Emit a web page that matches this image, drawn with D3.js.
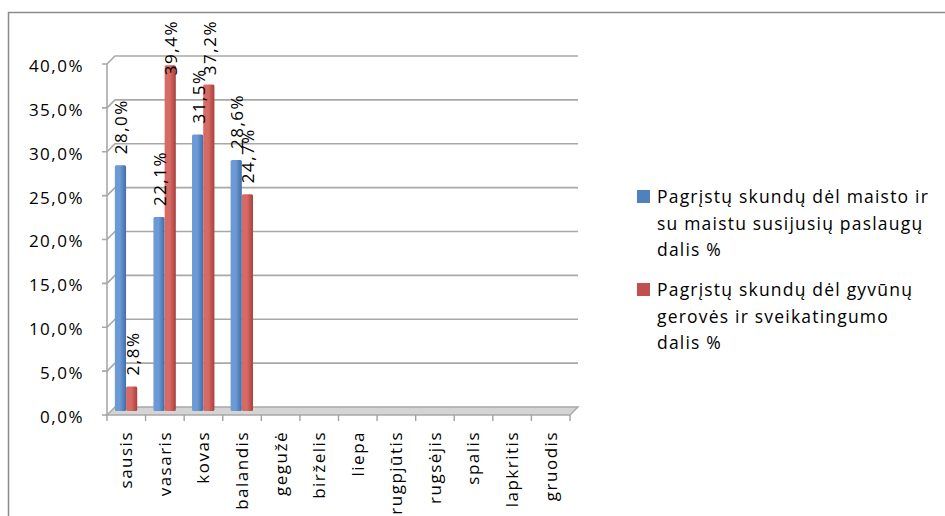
<!DOCTYPE html>
<meta charset="utf-8">
<style>
  body { margin: 0; background: #fff; }
  text { font-family: "Open Sans", sans-serif; font-size: 17px; fill: #000; letter-spacing: 1.5px; }
  .legend text { font-size: 17.5px; letter-spacing: 1.2px; }
  .grid { stroke: #a8a8a8; stroke-width: 1.6px; fill: none; }
</style>
<body>
<script src="https://d3js.org/d3.v7.min.js"></script>
<script>
// chart values
var months = ["sausis", "vasaris", "kovas", "balandis", "gegužė", "birželis", "liepa",
  "rugpjūtis", "rugsėjis", "spalis", "lapkritis", "gruodis"];
var foodShare = [28.0, 22.1, 31.5, 28.6, null, null, null, null, null, null, null, null];
var animalShare = [2.8, 39.4, 37.2, 24.7, null, null, null, null, null, null, null, null];
var yTicks = [0, 5, 10, 15, 20, 25, 30, 35, 40];
var seriesNames = [
  ["Pagrįstų skundų dėl maisto ir", "su maistu susijusių paslaugų", "dalis %"],
  ["Pagrįstų skundų dėl gyvūnų", "gerovės ir sveikatingumo", "dalis %"]
];
var seriesColors = ["#4f81bd", "#c0504d"];

var width = 945, height = 516;
var depth = 8; // 3d wall offset

var svg = d3.select("body").append("svg")
  .attr("width", width)
  .attr("height", height);

// gradients for the columns
var defs = svg.append("defs");
[["gb", "#3f6ea8", "#6b9ad4"], ["gr", "#a8403d", "#d86a66"]].forEach(function(g) {
  var lg = defs.append("linearGradient").attr("id", g[0]);
  lg.append("stop").attr("offset", "0%").attr("stop-color", g[2]);
  lg.append("stop").attr("offset", "45%").attr("stop-color", g[2]);
  lg.append("stop").attr("offset", "100%").attr("stop-color", g[1]);
});

// outer frame
svg.append("path")
  .attr("d", "M8.5," + height + "V12.5H" + width)
  .attr("fill", "none")
  .attr("stroke", "#8a8a8a")
  .attr("stroke-width", 1.5);

// scales
var x = d3.scaleBand().domain(months).range([107, 570]);
var y = d3.scaleLinear().domain([0, 40]).range([415, 64]);
var x0 = x.range()[0], x1 = x.range()[1];

// back wall gridlines with the little diagonal to the front tick
var grid = svg.append("g");
yTicks.forEach(function(t) {
  if (t === 0) return;
  grid.append("path").attr("class", "grid")
    .attr("d", "M" + (x0 - 5) + "," + y(t) + "H" + x0 + "L" + (x0 + depth) + "," + (y(t) - depth) + "H" + (x1 + depth));
});
// left wall
grid.append("path").attr("class", "grid")
  .attr("d", "M" + x0 + "," + y(40) + "V" + y(0));
// floor
grid.append("path")
  .attr("d", "M" + x0 + "," + y(0) + "L" + (x0 + depth) + "," + (y(0) - depth) + "H" + (x1 + depth) + "L" + x1 + "," + y(0) + "Z")
  .attr("fill", "#d4d4d4").attr("stroke", "#a8a8a8").attr("stroke-width", 1.4);
grid.append("path").attr("class", "grid")
  .attr("d", "M" + (x0 - 5) + "," + y(0) + "H" + x0);

// x ticks
svg.append("g").selectAll("line")
  .data(months.concat([null]))
  .enter().append("line")
  .attr("x1", function(d, i) { return x0 + i * x.bandwidth(); })
  .attr("x2", function(d, i) { return x0 + i * x.bandwidth(); })
  .attr("y1", y(0))
  .attr("y2", y(0) + 6)
  .attr("stroke", "#a0a0a0").attr("stroke-width", 1.4);

// y labels
svg.append("g").selectAll("text")
  .data(yTicks)
  .enter().append("text")
  .attr("x", 84)
  .attr("y", function(d) { return y(d) + 2; })
  .attr("dy", "0.35em")
  .attr("text-anchor", "end")
  .text(function(d) { return d.toFixed(1).replace(".", ",") + "%"; });

// x labels
svg.append("g").selectAll("text")
  .data(months)
  .enter().append("text")
  .attr("transform", function(d) { return "translate(" + (x(d) + x.bandwidth() / 2) + ",431) rotate(-90)"; })
  .attr("dy", "0.35em")
  .attr("text-anchor", "end")
  .text(function(d) { return d; });

// columns sit halfway into the depth
var yb = function(v) { return y(v) - depth / 2; };
var bw = x.bandwidth() * 0.29;
var series = [foodShare, animalShare];
var bars = svg.append("g");
var labels = svg.append("g");
series.forEach(function(vals, s) {
  var bx = function(i) { return x(months[i]) + depth / 2 + x.bandwidth() * 0.1 + s * bw; };
  vals.forEach(function(v, i) {
    if (v == null) return;
    bars.append("rect")
      .attr("x", bx(i))
      .attr("y", yb(v))
      .attr("width", bw)
      .attr("height", yb(0) - yb(v))
      .attr("rx", 1.5)
      .attr("fill", s === 0 ? "url(#gb)" : "url(#gr)");
    var t = labels.append("text")
      .attr("dy", "0.35em")
      .text(v.toFixed(1).replace(".", ",") + "%");
    var len = t.node().getComputedTextLength();
    var ty = Math.max(yb(v) - 11, 20 + len);
    t.attr("transform", "translate(" + (bx(i) + bw / 2 + 1) + "," + ty + ") rotate(-90)");
  });
});

// legend
var legend = svg.append("g").attr("class", "legend");
var lineH = 26.5;
var legendTop = [197, 290];
seriesNames.forEach(function(lines, s) {
  legend.append("rect")
    .attr("x", 637).attr("y", legendTop[s] - 7)
    .attr("width", 13).attr("height", 13)
    .attr("fill", seriesColors[s]);
  lines.forEach(function(l, k) {
    legend.append("text")
      .attr("x", 657)
      .attr("y", legendTop[s] + k * lineH)
      .attr("dy", "0.35em")
      .text(l);
  });
});
</script>
</body>
